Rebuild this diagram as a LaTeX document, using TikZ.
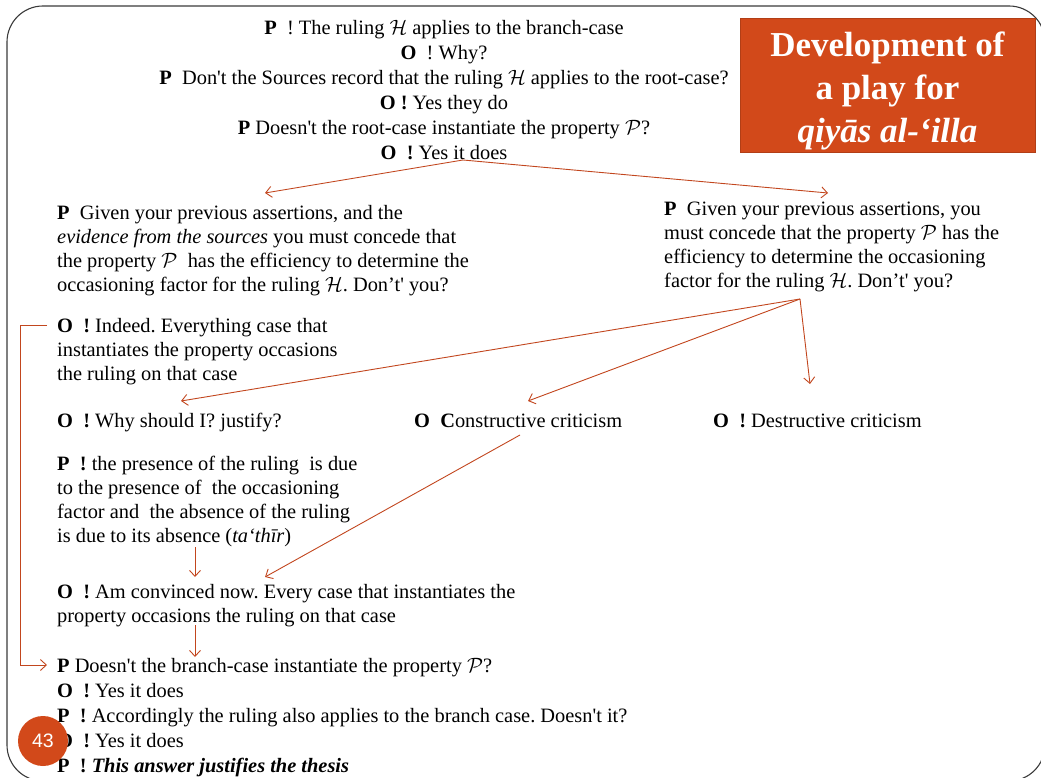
\documentclass[tikz,border=0pt]{standalone}
\usepackage{fontspec}
\setmainfont{Liberation Serif}[Ligatures=TeXOff]
\newfontfamily\numfont{Liberation Sans}
\usetikzlibrary{arrows.meta}
\definecolor{rust}{HTML}{C2461E}
\definecolor{boxred}{HTML}{D2491A}
\definecolor{framegray}{HTML}{3A3A3A}
\newcommand{\Hc}{$\mathcal{H}$}
\newcommand{\Pc}{$\mathcal{P}$}
\frenchspacing
\tikzset{
  para/.style={anchor=base west, inner sep=0pt, font=\fontsize{20.4}{24}\selectfont},
  cpara/.style={anchor=base, inner sep=0pt, font=\fontsize{20.4}{25}\selectfont},
  conn/.style={draw=rust, line width=0.9pt, -{Straight Barb[length=6pt,width=11pt]}},
}
\begin{document}
\begin{tikzpicture}[x=1pt,y=-1pt]
\useasboundingbox (0,0) rectangle (1041,778);
\begin{scope}
\clip (0,0) rectangle (1041,778);
\draw[framegray, line width=1.1pt, rounded corners=36pt] (7,6) rectangle (1045,781);
\end{scope}

% title box
\node[fill=boxred, draw=boxred!85!black, line width=0.5pt, minimum width=295pt, minimum height=134pt, inner sep=0pt] (title) at (887.5,85) {};
\node[text=white, font=\bfseries\fontsize{35}{43}\selectfont, align=center, anchor=center, inner sep=0pt] (titletext) at (887.5,91) {Development of\\a play for\\\itshape qiyās al-‘illa};

% top centred block
\node[cpara] (top) at (444,35) {\begin{tabular}[t]{@{}c@{}}
\textbf{P}\enspace! The ruling \Hc{} applies to the branch-case\\
\textbf{O}\enspace! Why?\\
\textbf{P}\enspace Don't the Sources record that the ruling \Hc{} applies to the root-case?\\
\textbf{O !} Yes they do\\
\textbf{P} Doesn't the root-case instantiate the property \Pc?\\
\textbf{O}\enspace\textbf{!} Yes it does
\end{tabular}};

% P left
\node[para] (pl) at (57,219) {\begin{tabular}[t]{@{}l@{}}
\textbf{P}\enspace Given your previous assertions, and the\\
\textit{evidence from the sources} you must concede that\\
the property \Pc\enspace has the efficiency to determine the\\
occasioning factor for the ruling \Hc. Don’t' you?
\end{tabular}};

% P right
\node[para] (pr) at (664,215) {\begin{tabular}[t]{@{}l@{}}
\textbf{P}\enspace Given your previous assertions, you\\
must concede that the property \Pc{} has the\\
efficiency to determine the occasioning\\
factor for the ruling \Hc. Don’t' you?
\end{tabular}};

% O indeed
\node[para] (oind) at (57,332) {\begin{tabular}[t]{@{}l@{}}
\textbf{O}\enspace\textbf{!} Indeed. Everything case that\\
instantiates the property occasions\\
the ruling on that case
\end{tabular}};

% row of O moves
\node[para] (why) at (57,427) {\textbf{O}\enspace\textbf{!} Why should I? justify?};
\node[para] (cons) at (414,427) {\textbf{O}\enspace\textbf{C}onstructive criticism};
\node[para] (dest) at (713,427) {\textbf{O}\enspace\textbf{!} Destructive criticism};

% P presence
\node[para] (pres) at (57,470) {\begin{tabular}[t]{@{}l@{}}
\textbf{P}\enspace\textbf{!} the presence of the ruling\ \ is due\\
to the presence of\ \ the occasioning\\
factor and\ \ the absence of the ruling\\
is due to its absence (\textit{ta‘thīr})
\end{tabular}};

% O convinced
\node[para] (conv) at (57,598) {\begin{tabular}[t]{@{}l@{}}
\textbf{O}\enspace\textbf{!} Am convinced now. Every case that instantiates the\\
property occasions the ruling on that case
\end{tabular}};

% final block
\node[para, font=\fontsize{20.4}{25}\selectfont] (fin) at (57,672) {\begin{tabular}[t]{@{}l@{}}
\textbf{P} Doesn't the branch-case instantiate the property \Pc?\\
\textbf{O}\enspace\textbf{!} Yes it does\\
\textbf{P}\enspace\textbf{!} Accordingly the ruling also applies to the branch case. Doesn't it?\\
\textbf{O}\enspace\textbf{!} Yes it does\\
\textbf{P}\enspace\textbf{!} \textbf{\textit{This answer justifies the thesis}}
\end{tabular}};

% page number
\node[circle, fill=boxred, minimum size=50pt, inner sep=0pt, text=white, font=\numfont\fontsize{19.5}{19.5}\selectfont] (page) at (43,741) {43};

% connector coordinates
\coordinate (s1) at (463,160);
\coordinate (e1) at (265,193);
\coordinate (e2) at (828,193);
\coordinate (s2) at (800,299);
\coordinate (e3) at (181,401);
\coordinate (e4) at (528,401);
\coordinate (e5) at (810,384);
\coordinate (s6) at (195,547);
\coordinate (e6) at (195,577);
\coordinate (s7) at (520,435);
\coordinate (e7) at (265,577);
\coordinate (s8) at (195,625);
\coordinate (e8) at (195,657);
\coordinate (b1) at (47,325);
\coordinate (b2) at (20,325);
\coordinate (b3) at (47,665);

\draw[conn] (s1) -- (e1);
\draw[conn] (s1) -- (e2);
\draw[conn] (s2) -- (e3);
\draw[conn] (s2) -- (e4);
\draw[conn] (s2) -- (e5);
\draw[conn] (s6) -- (e6);
\draw[conn] (s7) -- (e7);
\draw[conn] (s8) -- (e8);
\draw[conn] (b1) -- (b2) |- (b3);
\end{tikzpicture}
\end{document}
